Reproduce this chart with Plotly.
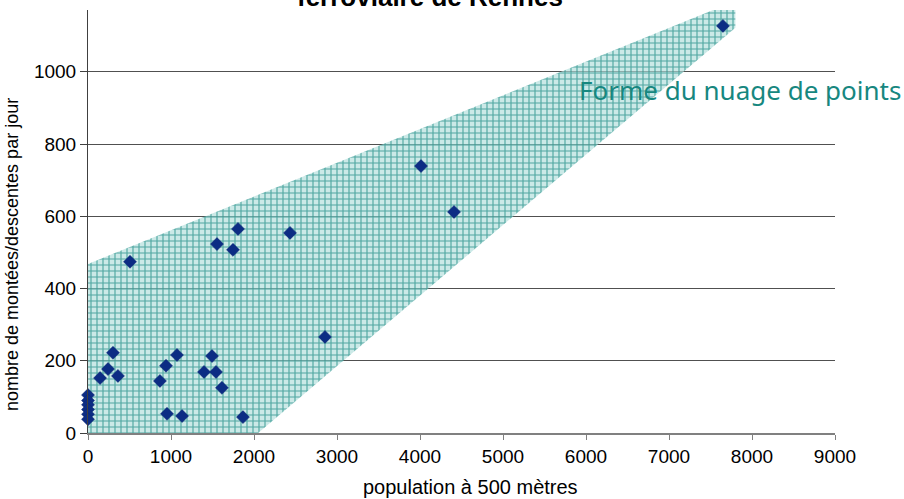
import plotly.graph_objects as go

# Data
population = [0, 0, 0, 0, 0, 0, 145, 241, 301, 361, 506, 867, 940, 952, 1072, 1133,
              1398, 1494, 1542, 1554, 1614, 1747, 1807, 1867, 2434, 2855, 4012, 4410, 7650]
montees = [105, 90, 78, 65, 52, 38, 152, 177, 222, 158, 474, 144, 186, 53, 216, 47,
           169, 213, 169, 523, 125, 507, 565, 44, 554, 266, 739, 612, 1127]

# Shape of the point cloud (envelope polygon)
cloud_x = [0, 0, 7800, 7800, 2050, 0]
cloud_y = [0, 468, 1196, 1122, 0, 0]

x_ticks = [0, 1000, 2000, 3000, 4000, 5000, 6000, 7000, 8000, 9000]
y_ticks = [0, 200, 400, 600, 800, 1000]

fig = go.Figure()
fig.add_trace(go.Scatter(
    x=cloud_x, y=cloud_y, mode="lines", fill="toself",
    line=dict(width=0, color="rgba(0,0,0,0)"),
    fillcolor="rgba(170,220,216,0.65)",
    fillpattern=dict(shape="+", size=6, solidity=0.35, fgcolor="#2f9690",
                     fgopacity=0.8, bgcolor="rgba(175,222,218,0.65)"),
    hoverinfo="skip", showlegend=False))
fig.add_trace(go.Scatter(
    x=population, y=montees, mode="markers",
    marker=dict(symbol="diamond", size=10, color="#0c2c84",
                line=dict(width=0.5, color="#0a2470")),
    showlegend=False, cliponaxis=False))

tick_font = dict(family="Liberation Sans Narrow, Arial Narrow, Arial", size=19, color="#000000")

fig.update_xaxes(range=[0, 9000], tickvals=x_ticks, ticks="outside", ticklen=5,
                 tickcolor="#808080", showline=True, linecolor="#808080", linewidth=2,
                 showgrid=False, zeroline=False, tickfont=tick_font)
fig.update_yaxes(range=[0, 1171], tickvals=y_ticks, ticks="outside", ticklen=7,
                 tickcolor="#404040", showline=True, linecolor="#404040", linewidth=1,
                 showgrid=True, gridcolor="#505050", gridwidth=1, zeroline=False,
                 tickfont=tick_font)

fig.add_annotation(text="Forme du nuage de points", xref="paper", yref="paper",
                   x=0.6546, y=0.811, xanchor="left", yanchor="middle", showarrow=False,
                   font=dict(family="Noto Sans, Open Sans, sans-serif", size=26, color="#17877f"))
fig.add_annotation(text="<b>ferroviaire de Rennes</b>", xref="paper", yref="paper",
                   x=0.458, y=0.9894, xanchor="center", yanchor="bottom", showarrow=False,
                   font=dict(family="Liberation Sans, Arial", size=26, color="#000000"))
fig.add_annotation(text="nombre de montées/descentes par jour", xref="paper", yref="paper",
                   x=-0.1017, y=0.4208, xanchor="center", yanchor="middle", textangle=-90,
                   showarrow=False, font=dict(family="Liberation Sans, Arial", size=18, color="#000000"))
fig.add_annotation(text="population à 500 mètres", xref="paper", yref="paper",
                   x=0.5114, y=-0.1277, xanchor="center", yanchor="middle",
                   showarrow=False, font=dict(family="Liberation Sans, Arial", size=20, color="#000000"))

fig.update_layout(width=904, height=499, margin=dict(l=88, r=69, t=10, b=66),
                  paper_bgcolor="white", plot_bgcolor="white")

fig.write_html("out.html", config={"displayModeBar": False},
               post_script="document.body.style.margin='0';")
